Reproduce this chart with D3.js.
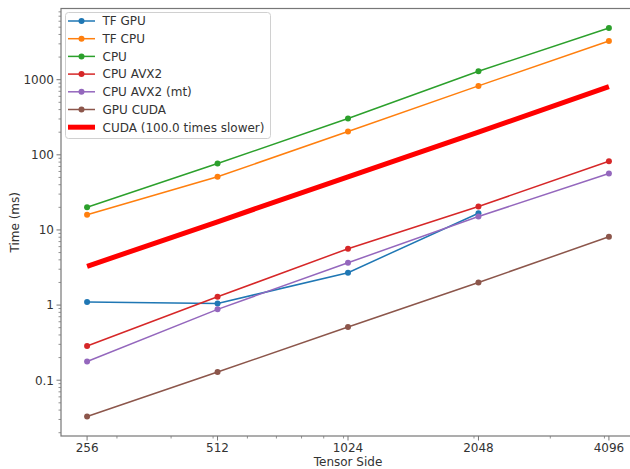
<!DOCTYPE html>
<html>
<head>
<meta charset="utf-8">
<script src="https://cdn.jsdelivr.net/npm/d3@7"></script>
<style>
  html, body { margin: 0; padding: 0; background: #fff; }
  svg { display: block; font-family: 'DejaVu Sans', sans-serif; }
</style>
</head>
<body>
<div id="chart"></div>
<script>
// tensor sides (x) and timings in ms (y)
const sizes = [256, 512, 1024, 2048, 4096];
const tfGpu = [1.10, 1.05, 2.70, 16.7];          // no 4096 run
const tfCpu = [15.9, 51, 204, 827, 3280];
const cpu = [20.1, 76.6, 304, 1294, 4886];
const cpuAvx2 = [0.285, 1.29, 5.62, 20.5, 82];
const cpuAvx2Mt = [0.177, 0.877, 3.66, 15.1, 56.4];
const gpuCuda = [0.0328, 0.1285, 0.51, 2.0, 8.1];
const slowdown = 100.0;
const yTickValues = [0.1, 1, 10, 100, 1000];

const series = [
  { name: 'TF GPU', color: '#1f77b4', values: tfGpu },
  { name: 'TF CPU', color: '#ff7f0e', values: tfCpu },
  { name: 'CPU', color: '#2ca02c', values: cpu },
  { name: 'CPU AVX2', color: '#d62728', values: cpuAvx2 },
  { name: 'CPU AVX2 (mt)', color: '#9467bd', values: cpuAvx2Mt },
  { name: 'GPU CUDA', color: '#8c564b', values: gpuCuda },
];
const slowLine = {
  name: `CUDA (${slowdown.toFixed(1)} times slower)`,
  color: '#ff0000',
  values: gpuCuda.map(v => v * slowdown),
};

const W = 630, H = 469;
// plot box; the right spine falls just off the canvas
const mLeft = 61, mTop = 8.5, mBottom = 436, mRight = 635;

const svg = d3.select('#chart').append('svg')
  .attr('width', W).attr('height', H);

// matplotlib-style 5% margins in log space
const lx = Math.log2(sizes[sizes.length - 1] / sizes[0]) * 0.05;
const x = d3.scaleLog().base(2)
  .domain([sizes[0] / 2 ** lx, sizes[sizes.length - 1] * 2 ** lx])
  .range([mLeft, mRight]);

const allY = [...series, slowLine].flatMap(s => s.values);
const yMin = Math.log10(d3.min(allY)), yMax = Math.log10(d3.max(allY));
const ly = (yMax - yMin) * 0.05;
const y = d3.scaleLog()
  .domain([10 ** (yMin - ly), 10 ** (yMax + ly)])
  .range([mBottom, mTop]);

const tickCol = '#333', spineCol = '#777';

// y ticks (major + minor)
const yMinor = [];
for (let e = -2; e <= 3; e++) for (let m = 2; m <= 9; m++) {
  const v = m * 10 ** e;
  if (v >= y.domain()[0] && v <= y.domain()[1]) yMinor.push(v);
}
svg.append('g').selectAll('line').data(yMinor).join('line')
  .attr('x1', mLeft - 2.5).attr('x2', mLeft)
  .attr('y1', d => y(d)).attr('y2', d => y(d))
  .attr('stroke', spineCol).attr('stroke-width', 0.8);
svg.append('g').selectAll('line').data(yTickValues).join('line')
  .attr('x1', mLeft - 4.5).attr('x2', mLeft)
  .attr('y1', d => y(d)).attr('y2', d => y(d))
  .attr('stroke', spineCol).attr('stroke-width', 1);
svg.append('g').selectAll('text').data(yTickValues).join('text')
  .attr('x', mLeft - 7).attr('y', d => y(d)).attr('dy', '0.36em')
  .attr('text-anchor', 'end').attr('font-size', 12).attr('fill', tickCol)
  .text(d => d < 1 ? d3.format('.1f')(d) : d3.format('d')(d));

// x ticks: labels on powers of two, minor ticks at the base-10 positions
const xMinor = [];
for (let e = 2; e <= 3; e++) for (let m = 1; m <= 9; m++) {
  const v = m * 10 ** e;
  if (v >= x.domain()[0] && v <= x.domain()[1]) xMinor.push(v);
}
svg.append('g').selectAll('line').data(xMinor).join('line')
  .attr('x1', d => x(d)).attr('x2', d => x(d))
  .attr('y1', mBottom).attr('y2', mBottom + 2.5)
  .attr('stroke', spineCol).attr('stroke-width', 0.8);
svg.append('g').selectAll('line').data(sizes).join('line')
  .attr('x1', d => x(d)).attr('x2', d => x(d))
  .attr('y1', mBottom).attr('y2', mBottom + 4.5)
  .attr('stroke', spineCol).attr('stroke-width', 1);
svg.append('g').selectAll('text').data(sizes).join('text')
  .attr('x', d => x(d)).attr('y', mBottom + 15.5)
  .attr('text-anchor', 'middle').attr('font-size', 12).attr('fill', tickCol)
  .text(d => d);

// spines
svg.append('rect')
  .attr('x', mLeft).attr('y', mTop)
  .attr('width', mRight - mLeft).attr('height', mBottom - mTop)
  .attr('fill', 'none').attr('stroke', spineCol).attr('stroke-width', 1.2);

// axis labels
svg.append('text')
  .attr('x', (mLeft + mRight) / 2).attr('y', 466)
  .attr('text-anchor', 'middle').attr('font-size', 12).attr('fill', tickCol)
  .text('Tensor Side');
svg.append('text')
  .attr('transform', `translate(19,${(mTop + mBottom) / 2}) rotate(-90)`)
  .attr('text-anchor', 'middle').attr('font-size', 12).attr('fill', tickCol)
  .text('Time (ms)');

// series
const line = d3.line().x((d, i) => x(sizes[i])).y(d => y(d));
const plot = svg.append('g');
series.forEach(s => {
  plot.append('path').datum(s.values)
    .attr('d', line).attr('fill', 'none')
    .attr('stroke', s.color).attr('stroke-width', 1.5);
  plot.append('g').selectAll('circle').data(s.values).join('circle')
    .attr('cx', (d, i) => x(sizes[i])).attr('cy', d => y(d))
    .attr('r', 3).attr('fill', s.color);
});
plot.append('path').datum(slowLine.values)
  .attr('d', line).attr('fill', 'none')
  .attr('stroke', slowLine.color).attr('stroke-width', 5);

// legend
const legend = svg.append('g');
legend.append('rect')
  .attr('x', 65.5).attr('y', 12.5).attr('width', 205).attr('height', 126)
  .attr('rx', 3).attr('fill', 'rgba(255,255,255,0.8)')
  .attr('stroke', '#d0d0d0').attr('stroke-width', 1);
const rowH = 17.7;
[...series, slowLine].forEach((s, i) => {
  const cy = 21 + i * rowH;
  const g = legend.append('g');
  const isSlow = s === slowLine;
  g.append('line')
    .attr('x1', 68).attr('x2', 95).attr('y1', cy).attr('y2', cy)
    .attr('stroke', s.color).attr('stroke-width', isSlow ? 5 : 1.5);
  if (!isSlow) {
    g.append('circle').attr('cx', 81.5).attr('cy', cy).attr('r', 3).attr('fill', s.color);
  }
  g.append('text')
    .attr('x', 102.5).attr('y', cy).attr('dy', '0.36em')
    .attr('font-size', 12).attr('fill', tickCol)
    .text(s.name);
});
</script>
</body>
</html>
